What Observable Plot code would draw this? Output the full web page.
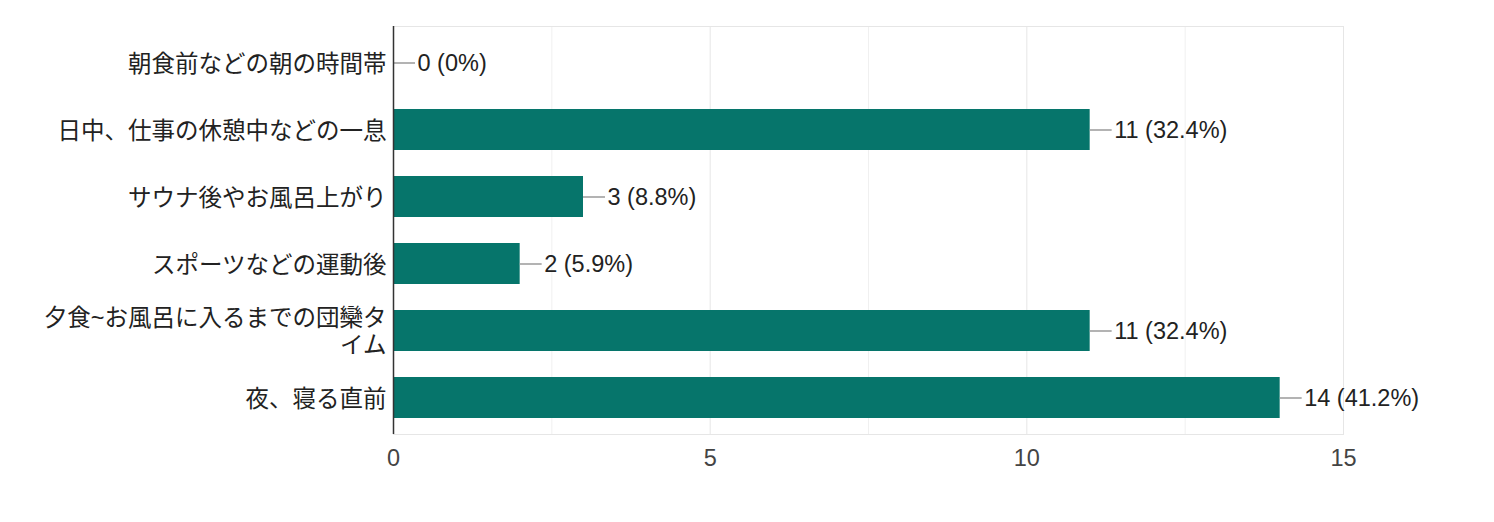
<!DOCTYPE html>
<html><head><meta charset="utf-8">
<script src="https://cdn.jsdelivr.net/npm/d3@7"></script>
<script src="https://cdn.jsdelivr.net/npm/@observablehq/plot@0.6"></script>
<style>body{margin:0;background:#fff;font-family:"Liberation Sans","Noto Sans CJK JP",sans-serif;}</style>
</head><body><div id="chart"></div>
<script>
const categories = ["朝食前などの朝の時間帯","日中、仕事の休憩中などの一息","サウナ後やお風呂上がり","スポーツなどの運動後","夕食~お風呂に入るまでの団欒タ\nイム","夜、寝る直前"];
const counts = [0, 11, 3, 2, 11, 14];
const percents = ["0%","32.4%","8.8%","5.9%","32.4%","41.2%"];
const xTicks = [0, 5, 10, 15];
const minorTicks = [2.5, 7.5, 12.5];

const data = categories.map((c,i)=>({cat:c, v:counts[i], label:`${counts[i]} (${percents[i]})`}));
const leaderLen = 22;

const chart = Plot.plot({
  width: 1494, height: 522,
  marginLeft: 393, marginRight: 151, marginTop: 26, marginBottom: 88,
  style: {fontFamily: '"Liberation Sans","Noto Sans CJK JP",sans-serif', background:"#fff"},
  x: {domain:[0,15], label:null},
  y: {domain: categories, paddingInner: 0.39, paddingOuter: 0.2, label:null},
  marks: [
    Plot.gridX(minorTicks, {stroke:"#f0f0f0", strokeOpacity:1}),
    Plot.gridX(xTicks, {stroke:"#e6e6e6", strokeOpacity:1}),
    Plot.frame({stroke:"#e6e6e6"}),
    Plot.barX(data, {y:"cat", x:"v", fill:"#06756b"}),
    Plot.ruleY(data, {y:"cat", x1:"v", x2:"v", stroke:"#9a9a9a", strokeWidth:1.5,
      render: (index, scales, values, dims, ctx, next) => {
        const g = next(index, scales, values, dims, ctx);
        g.querySelectorAll("line").forEach(l => l.setAttribute("x2", +l.getAttribute("x2") + leaderLen));
        return g;
      }}),
    Plot.text(data, {y:"cat", x:"v", text:"label", textAnchor:"start", dx: leaderLen + 2, fontSize:23.5, fill:"#222"}),
    Plot.ruleX([0], {stroke:"#333", strokeWidth:1.5}),
    Plot.axisY({tickSize:0, tickPadding:7, fontSize:23.5, fill:"#222", lineHeight:1.15, label:null}),
    Plot.axisX(xTicks, {tickSize:0, tickPadding:15, fontSize:23.5, fill:"#444", label:null})
  ]
});
document.getElementById("chart").appendChild(chart);
</script></body></html>
